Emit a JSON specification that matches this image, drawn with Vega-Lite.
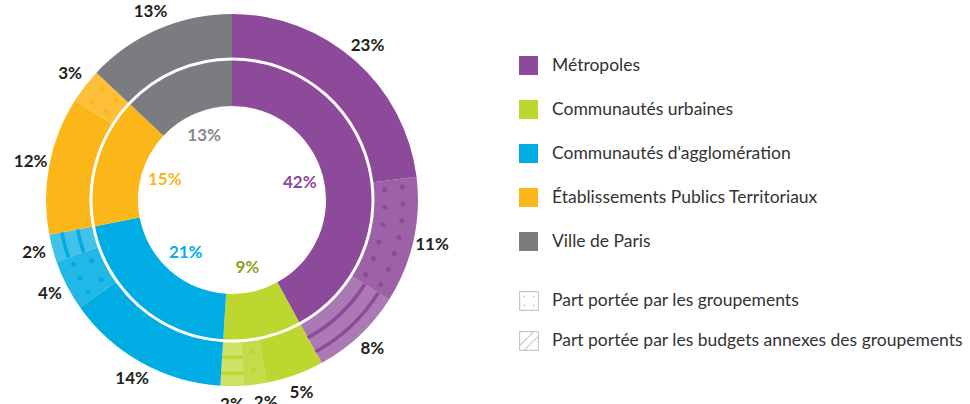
{
  "$schema": "https://vega.github.io/schema/vega-lite/v6.json",
  "width": 464,
  "height": 400,
  "padding": {"left": 0, "top": 0, "right": 0, "bottom": 0},
  "background": "white",
  "config": {"view": {"stroke": null}},
  "datasets": {
    "interieur": [
      {"groupe": "Métropoles", "valeur": 0.42, "ordre": 1},
      {"groupe": "Communautés urbaines", "valeur": 0.09, "ordre": 2},
      {"groupe": "Communautés d'agglomération", "valeur": 0.21, "ordre": 3},
      {"groupe": "Établissements Publics Territoriaux", "valeur": 0.15, "ordre": 4},
      {"groupe": "Ville de Paris", "valeur": 0.13, "ordre": 5}
    ],
    "exterieur": [
      {"groupe": "Métropoles", "motif": "Part propre", "valeur": 0.23, "ordre": 1},
      {"groupe": "Métropoles", "motif": "Part portée par les groupements", "valeur": 0.11, "ordre": 2},
      {"groupe": "Métropoles", "motif": "Part portée par les budgets annexes des groupements", "valeur": 0.08, "ordre": 3},
      {"groupe": "Communautés urbaines", "motif": "Part propre", "valeur": 0.05, "ordre": 4},
      {"groupe": "Communautés urbaines", "motif": "Part portée par les groupements", "valeur": 0.02, "ordre": 5},
      {"groupe": "Communautés urbaines", "motif": "Part portée par les budgets annexes des groupements", "valeur": 0.02, "ordre": 6},
      {"groupe": "Communautés d'agglomération", "motif": "Part propre", "valeur": 0.142, "ordre": 7},
      {"groupe": "Communautés d'agglomération", "motif": "Part portée par les groupements", "valeur": 0.044, "ordre": 8},
      {"groupe": "Communautés d'agglomération", "motif": "Part portée par les budgets annexes des groupements", "valeur": 0.024, "ordre": 9},
      {"groupe": "Établissements Publics Territoriaux", "motif": "Part propre", "valeur": 0.12, "ordre": 10},
      {"groupe": "Établissements Publics Territoriaux", "motif": "Part portée par les groupements", "valeur": 0.03, "ordre": 11},
      {"groupe": "Ville de Paris", "motif": "Part propre", "valeur": 0.13, "ordre": 12}
    ]
  },
  "layer": [
    {
      "data": {"name": "interieur"},
      "mark": {"type": "arc", "radius": 139.5, "radius2": 94},
      "encoding": {
        "theta": {"field": "valeur", "type": "quantitative", "stack": true, "scale": {"domain": [0, 1]}},
        "order": {"field": "ordre", "type": "quantitative"},
        "color": {
          "field": "groupe", "type": "nominal",
          "scale": {
            "domain": ["Métropoles", "Communautés urbaines", "Communautés d'agglomération", "Établissements Publics Territoriaux", "Ville de Paris"],
            "range": ["#8e4a9a", "#bed630", "#00ace4", "#fbb61a", "#7b7c80"]
          },
          "legend": {
            "orient": "none", "legendX": 519, "legendY": 56, "title": null,
            "symbolType": "square", "symbolSize": 361, "symbolStrokeWidth": 0,
            "labelFont": "Lato", "labelFontSize": 17.5, "labelColor": "#333333",
            "labelOffset": 14, "rowPadding": 25, "labelLimit": 500
          }
        }
      }
    },
    {
      "data": {"name": "exterieur"},
      "mark": {"type": "arc", "radius": 186, "radius2": 142.5},
      "encoding": {
        "theta": {"field": "valeur", "type": "quantitative", "stack": true},
        "order": {"field": "ordre", "type": "quantitative"},
        "color": {"field": "groupe", "type": "nominal"},
        "opacity": {
          "field": "motif", "type": "nominal",
          "scale": {"domain": ["Part propre", "Part portée par les groupements", "Part portée par les budgets annexes des groupements"], "range": [1, 0.74, 0.5]},
          "legend": null
        }
      }
    },
    {
      "data": {"name": "exterieur"},
      "mark": {"type": "arc", "filled": false, "radius": 153, "radius2": 153, "strokeWidth": 5, "strokeCap": "round",
        "strokeDash": {"expr": "[0, 2*PI*153*datum.valeur/max(1, round(2*PI*153*datum.valeur/18))]"},
        "strokeDashOffset": {"expr": "PI*153*datum.valeur/max(1, round(2*PI*153*datum.valeur/18))"}},
      "encoding": {
        "theta": {"field": "valeur", "type": "quantitative", "stack": true},
        "order": {"field": "ordre", "type": "quantitative"},
        "color": {"field": "groupe", "type": "nominal"},
        "strokeOpacity": {"condition": {"test": "datum.motif === 'Part portée par les groupements'", "value": 1}, "value": 0}
      }
    },
    {
      "data": {"name": "exterieur"},
      "mark": {"type": "arc", "filled": false, "radius": 171, "radius2": 171, "strokeWidth": 5, "strokeCap": "round",
        "strokeDash": {"expr": "[0, 2*PI*171*datum.valeur/max(1, round(2*PI*171*datum.valeur/18))]"},
        "strokeDashOffset": {"expr": "PI*171*datum.valeur/max(1, round(2*PI*171*datum.valeur/18))"}},
      "encoding": {
        "theta": {"field": "valeur", "type": "quantitative", "stack": true},
        "order": {"field": "ordre", "type": "quantitative"},
        "color": {"field": "groupe", "type": "nominal"},
        "strokeOpacity": {"condition": {"test": "datum.motif === 'Part portée par les groupements'", "value": 1}, "value": 0}
      }
    },
    {
      "data": {"name": "exterieur"},
      "mark": {"type": "arc", "radius": 159, "radius2": 155.5},
      "encoding": {
        "theta": {"field": "valeur", "type": "quantitative", "stack": true},
        "order": {"field": "ordre", "type": "quantitative"},
        "color": {"field": "groupe", "type": "nominal"},
        "fillOpacity": {"condition": {"test": "datum.motif === 'Part portée par les budgets annexes des groupements'", "value": 1}, "value": 0}
      }
    },
    {
      "data": {"name": "exterieur"},
      "mark": {"type": "arc", "radius": 175, "radius2": 171.5},
      "encoding": {
        "theta": {"field": "valeur", "type": "quantitative", "stack": true},
        "order": {"field": "ordre", "type": "quantitative"},
        "color": {"field": "groupe", "type": "nominal"},
        "fillOpacity": {"condition": {"test": "datum.motif === 'Part portée par les budgets annexes des groupements'", "value": 1}, "value": 0}
      }
    },
    {
      "data": {"name": "exterieur"},
      "mark": {"type": "text", "radius": 205, "font": "Lato", "fontWeight": "bold", "fontSize": 17, "fill": "#231f20",
        "dx": {"expr": "datum.ordre === 5 ? 8 : 0"}},
      "encoding": {
        "theta": {"field": "valeur", "type": "quantitative", "stack": true},
        "order": {"field": "ordre", "type": "quantitative"},
        "text": {"field": "valeur", "type": "quantitative", "format": ".0%"}
      }
    },
    {
      "data": {"name": "interieur"},
      "mark": {"type": "text", "radius": 70, "font": "Lato", "fontWeight": "bold", "fontSize": 17},
      "encoding": {
        "theta": {"field": "valeur", "type": "quantitative", "stack": true},
        "order": {"field": "ordre", "type": "quantitative"},
        "text": {"field": "valeur", "type": "quantitative", "format": ".0%"},
        "fill": {
          "field": "groupe", "type": "nominal",
          "scale": {
            "domain": ["Métropoles", "Communautés urbaines", "Communautés d'agglomération", "Établissements Publics Territoriaux", "Ville de Paris"],
            "range": ["#8e4a9a", "#8fa21f", "#00aee6", "#fbb61a", "#87888c"]
          },
          "legend": null
        }
      }
    },
    {
      "data": {"name": "exterieur"},
      "transform": [{"filter": "datum.motif !== 'Part propre'"}],
      "mark": {"type": "point", "filled": true, "size": 0, "color": "#c8c8c8"},
      "encoding": {
        "shape": {
          "field": "motif", "type": "nominal",
          "scale": {
            "domain": ["Part portée par les groupements", "Part portée par les budgets annexes des groupements"],
            "range": [
              "M-1,-1H1V1H-1Z M-0.88,-0.88V0.88H0.88V-0.88Z M-0.55,-0.55h0.17v0.17h-0.17Z M0.38,-0.55h0.17v0.17h-0.17Z M-0.55,0.38h0.17v0.17h-0.17Z M0.38,0.38h0.17v0.17h-0.17Z",
              "M-1,-1H1V1H-1Z M-0.88,-0.88V0.88H0.88V-0.88Z M-0.88,0.35L0.35,-0.88L0.51,-0.88L-0.88,0.51Z M-0.51,0.88L0.88,-0.51L0.88,-0.35L-0.35,0.88Z"
            ]
          },
          "legend": {
            "orient": "none", "legendX": 519, "legendY": 291, "title": null,
            "symbolSize": 400, "symbolFillColor": "#c0c0c0", "symbolStrokeWidth": 0, "symbolOpacity": 1,
            "labelFont": "Lato", "labelFontSize": 17.5, "labelColor": "#333333",
            "labelOffset": 13, "rowPadding": 20, "labelLimit": 500
          }
        }
      }
    }
  ]
}
